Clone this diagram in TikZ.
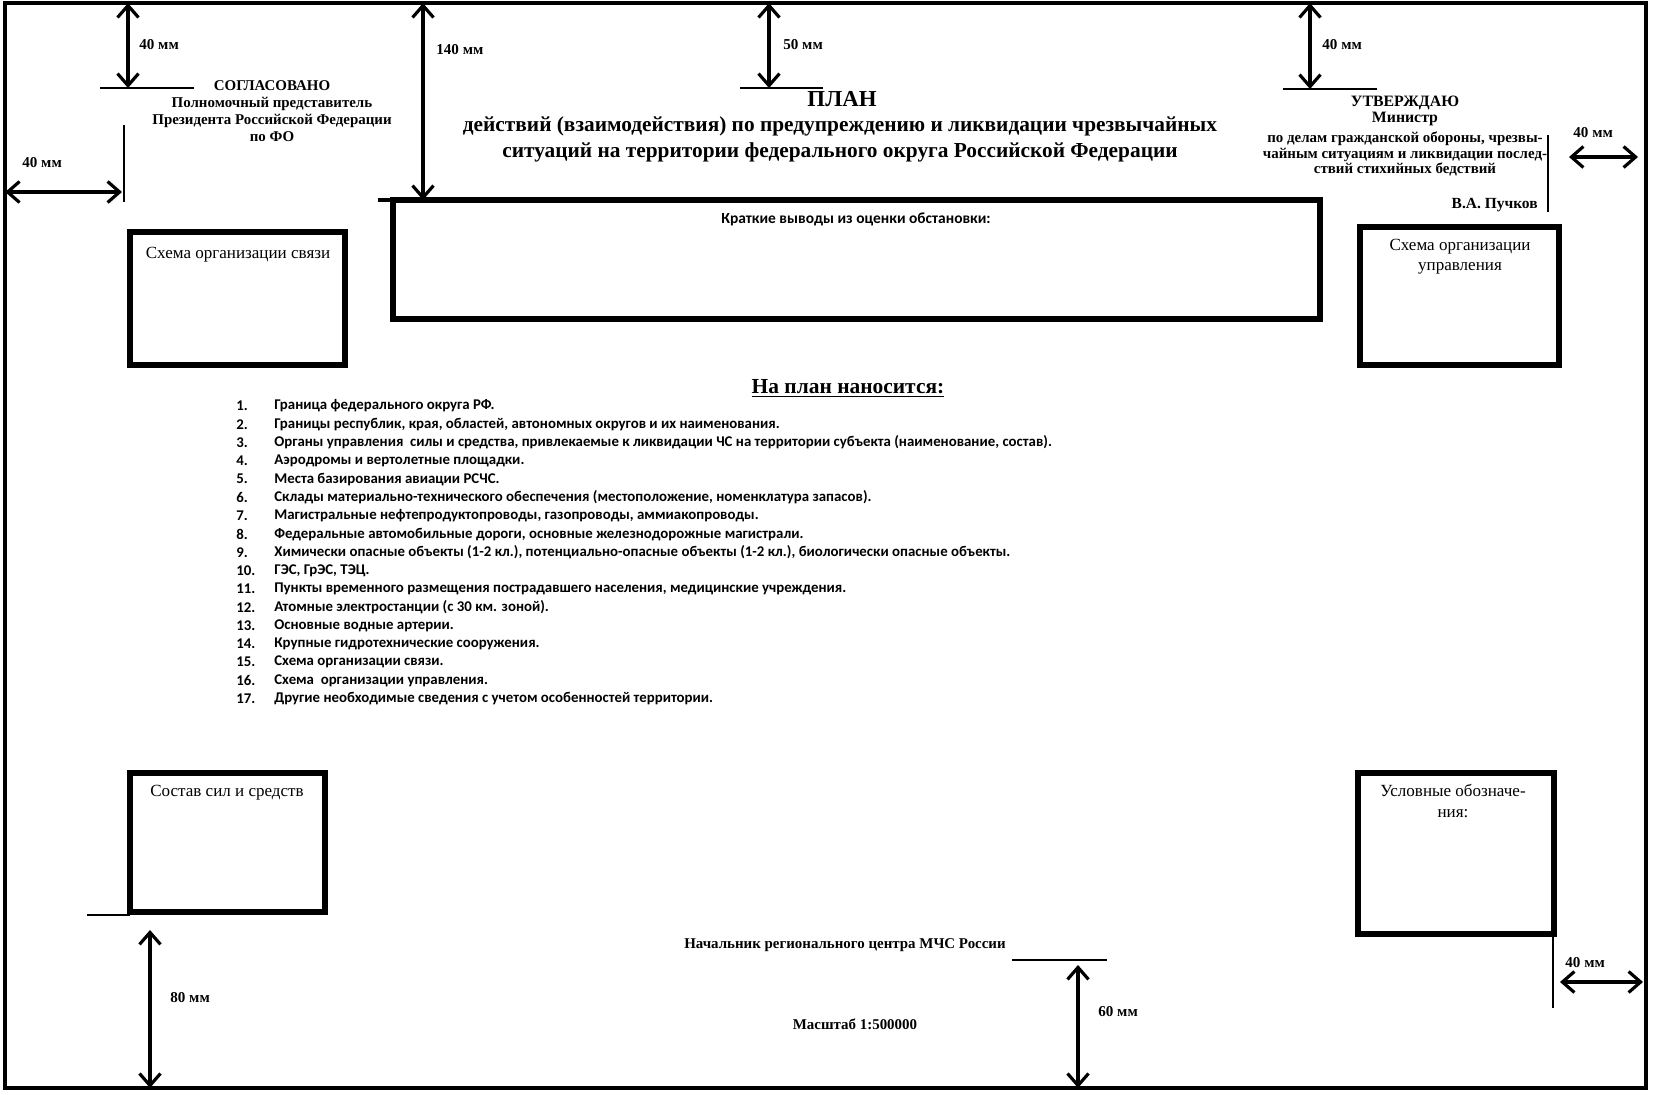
\documentclass[tikz,border=0pt]{standalone}
\usepackage{fontspec}
\setmainfont{Liberation Serif}
\newfontfamily\listfont{Carlito}
\usetikzlibrary{arrows.meta,positioning}

\tikzset{
  dim/.style={line width=1.8pt, {Straight Barb[length=0.24cm,width=0.42cm]}-{Straight Barb[length=0.24cm,width=0.42cm]}},
  markline/.style={line width=1.5pt},
  dimtext/.style={anchor=west, inner sep=0pt, font=\bfseries\fontsize{8.6}{9}\selectfont},
  panel/.style={draw, line width=3.6pt, anchor=north west, inner sep=0pt, outer sep=0pt},
  paneltitle/.style={inner sep=0pt, align=center, font=\fontsize{9.7}{11.5}\selectfont},
  signtext/.style={inner sep=0pt, align=center, font=\bfseries\fontsize{8.5}{9.7}\selectfont},
  listitem/.style={anchor=west, inner sep=0pt, font=\listfont\bfseries\fontsize{8.45}{9}\selectfont},
}

\begin{document}
\begin{tikzpicture}[x=0.02cm, y=-0.02cm]
  \useasboundingbox (0,0) rectangle (1654,1095);

  \node [draw, line width=2.3pt, inner sep=0pt, outer sep=0pt, minimum width=32.82cm, minimum height=21.7cm] (sheet) at (825.5,545.5) {};

  \node [panel, minimum width=18.54cm, minimum height=2.38cm] (vyvody) at (393,200) {};
  \node [panel, minimum width=4.3cm, minimum height=2.66cm] (svyaz) at (130,232) {};
  \node [panel, minimum width=3.98cm, minimum height=2.76cm] (upravl) at (1360,227) {};
  \node [panel, minimum width=3.9cm, minimum height=2.78cm] (sostav) at (130,773) {};
  \node [panel, minimum width=3.92cm, minimum height=3.22cm] (uslovn) at (1358,773) {};
  \draw [line width=2pt] (378,200) -- (393,200);

  \node [inner sep=0pt, font=\listfont\bfseries\fontsize{8.8}{9}\selectfont] (vyvodyt) at (856,219) {Краткие выводы из оценки обстановки:};
  \node [paneltitle] (svyazt) at (238,255) {Схема организации связи};
  \node [paneltitle] (upravlt) at (1460,257) {Схема организации\\управления};
  \node [paneltitle] (sostavt) at (227,793) {Состав сил и средств};
  \node [paneltitle] (uslovnt) at (1453,801) {Условные обозначе-\\ния:};

  \node [signtext] (sogl) at (272,111) {СОГЛАСОВАНО\\Полномочный представитель\\Президента Российской Федерации\\по ФО};
  \node [signtext, font=\bfseries\fontsize{9}{8.6}\selectfont] (utv) at (1405,111) {УТВЕРЖДАЮ\\Министр};
  \node [signtext, font=\bfseries\fontsize{8.5}{8.8}\selectfont] (utvtext) at (1405,154) {по делам гражданской обороны, чрезвы-\\чайным ситуациям и ликвидации послед-\\ствий стихийных бедствий};
  \node [signtext, font=\bfseries\fontsize{8.8}{9.7}\selectfont, anchor=east] (puchkov) at (1538,205) {В.А. Пучков};

  \node [inner sep=0pt, font=\bfseries\fontsize{13}{15}\selectfont] (plan) at (842,99) {ПЛАН};
  \node [inner sep=0pt, align=center, font=\bfseries\fontsize{12.15}{14.8}\selectfont] (plantext) at (840,139) {действий (взаимодействия) по предупреждению и ликвидации чрезвычайных\\ситуаций на территории федерального округа Российской Федерации};

  \node [inner sep=0pt, font=\bfseries\fontsize{12.2}{14}\selectfont] (naplan) at (848,388) {\underline{На план наносится:}};
  \foreach \txt [count=\i] in {
      {Граница федерального округа РФ.},
      {Границы республик, края, областей, автономных округов и их наименования.},
      {Органы управления\ \ силы и средства, привлекаемые к ликвидации ЧС на территории субъекта (наименование, состав).},
      {Аэродромы и вертолетные площадки.},
      {Места базирования авиации РСЧС.},
      {Склады материально-технического обеспечения (местоположение, номенклатура запасов).},
      {Магистральные нефтепродуктопроводы, газопроводы, аммиакопроводы.},
      {Федеральные автомобильные дороги, основные железнодорожные магистрали.},
      {Химически опасные объекты (1-2 кл.), потенциально-опасные объекты (1-2 кл.), биологически опасные объекты.},
      {ГЭС, ГрЭС, ТЭЦ.},
      {Пункты временного размещения пострадавшего населения, медицинские учреждения.},
      {Атомные электростанции (с 30 км. зоной).},
      {Основные водные артерии.},
      {Крупные гидротехнические сооружения.},
      {Схема организации связи.},
      {Схема\ \ организации управления.},
      {Другие необходимые сведения с учетом особенностей территории.}} {
    \node [listitem] (num\i) at (236,{406+(\i-1)*18.3}) {\i.};
    \node [listitem] (item\i) at (274,{406+(\i-1)*18.3}) {\txt};
  }

  \node [signtext] (nachalnik) at (845,945) {Начальник регионального центра МЧС России};
  \node [signtext] (masshtab) at (855,1024) {Масштаб 1:500000};

  \coordinate (soglmark) at (128,88);
  \draw [markline] (100,88) -- (194,88);
  \draw [dim] (sheet.north -| soglmark) -- (soglmark);
  \node [dimtext] (soglmm) at (139,45) {40 мм};

  \coordinate (leftmark) at (122,192);
  \draw [markline, line width=1.2pt] (124,125) -- (124,202);
  \draw [dim] (sheet.west |- leftmark) -- (leftmark);
  \node [dimtext] (leftmm) at (22,163) {40 мм};

  \coordinate (planmark) at (423,0);
  \draw [dim] (sheet.north -| planmark) -- (vyvody.north -| planmark);
  \node [dimtext] (planmm) at (436,50) {140 мм};

  \coordinate (titlemark) at (769,88);
  \draw [markline] (740,88) -- (823,88);
  \draw [dim] (sheet.north -| titlemark) -- (titlemark);
  \node [dimtext] (titlemm) at (783,45) {50 мм};

  \coordinate (utvmark) at (1310,89);
  \draw [markline] (1283,89) -- (1377,89);
  \draw [dim] (sheet.north -| utvmark) -- (utvmark);
  \node [dimtext] (utvmm) at (1322,45) {40 мм};

  \coordinate (rightfrom) at (1569,157);
  \coordinate (rightto) at (1638,157);
  \draw [markline, line width=1.2pt] (1548,135) -- (1548,212);
  \draw [dim] (rightfrom) -- (rightto);
  \node [dimtext] (rightmm) at (1573,133) {40 мм};

  \coordinate (sostavmark) at (150,930);
  \draw [markline, line width=1pt] (87,915) -- (130,915);
  \draw [dim] (sostavmark) -- (sheet.south -| sostavmark);
  \node [dimtext] (sostavmm) at (170,998) {80 мм};

  \coordinate (nachmark) at (1078,965);
  \draw [markline, line width=1pt] (1012,960) -- (1107,960);
  \draw [dim] (nachmark) -- (sheet.south -| nachmark);
  \node [dimtext] (nachmm) at (1098,1012) {60 мм};

  \coordinate (uslovnmark) at (1560,982);
  \draw [markline, line width=1.2pt] (1553,934) -- (1553,1008);
  \draw [dim] (uslovnmark) -- (1643,982);
  \node [dimtext] (uslovnmm) at (1565,963) {40 мм};
\end{tikzpicture}
\end{document}
